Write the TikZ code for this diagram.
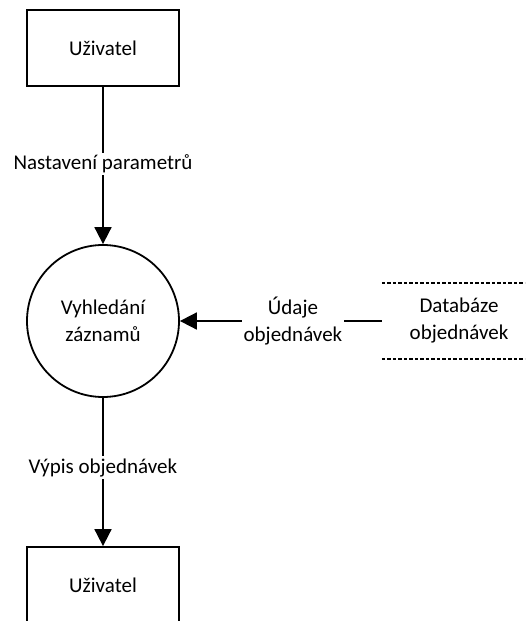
\documentclass[tikz,border=0pt]{standalone}
\usepackage{fontspec}
\setmainfont{Carlito}
\usetikzlibrary{arrows.meta}
\begin{document}
\begin{tikzpicture}[x=1pt,y=-1pt,
  every node/.style={font=\fontsize{21}{27}\selectfont},
  entity/.style={draw,line width=1.8pt,minimum width=152pt,minimum height=76pt,inner sep=0pt},
  process/.style={draw,circle,line width=1.8pt,minimum size=152pt,inner sep=0pt,align=center},
  store/.style={minimum width=154pt,minimum height=76pt,inner sep=0pt,align=center},
  flow/.style={line width=1.8pt,-{Triangle[length=17pt,width=17pt]}},
  flowlabel/.style={fill=white,inner sep=2pt,align=center}]
  \useasboundingbox (0,0) rectangle (525,621);
  \clip (0,0) rectangle (525,621);

  % external entities and the process
  \node[entity] (user1) at (103,48) {Uživatel};
  \node[process] (search) at (103,321) {Vyhledání\\záznamů};
  \node[entity] (user2) at (103,585) {Uživatel};

  % data store: open rectangle with dotted top and bottom edges
  \node[store] (db) at (459,321) {Databáze\\objednávek};
  \draw[line width=1.8pt,dash pattern=on 3.5pt off 2pt] (db.north west) -- (db.north east);
  \draw[line width=1.8pt,dash pattern=on 3.5pt off 2pt] (db.south west) -- (db.south east);

  % data flows
  \draw[flow] (user1) -- node[flowlabel,pos=0.49] {Nastavení parametrů} (search);
  \draw[flow] (search) -- node[flowlabel,pos=0.47] {Výpis objednávek} (user2);
  \draw[flow] (db) -- node[flowlabel,pos=0.44] {Údaje\\objednávek} (search);
\end{tikzpicture}
\end{document}
